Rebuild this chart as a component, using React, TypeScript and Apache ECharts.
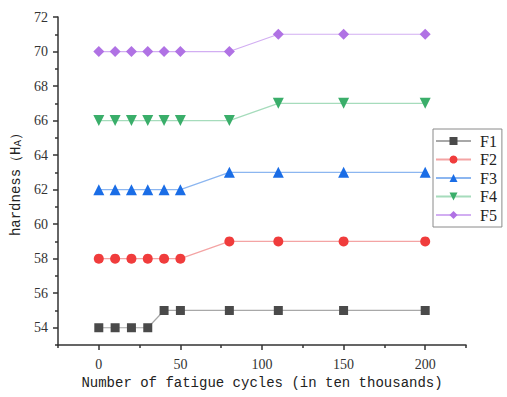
import React, { useEffect, useRef } from "react";
import * as echarts from "echarts";

const cycles = [0, 10, 20, 30, 40, 50, 80, 110, 150, 200];
const seriesNames = ["F1", "F2", "F3", "F4", "F5"];
const f1 = [54, 54, 54, 54, 55, 55, 55, 55, 55, 55];
const f2 = [58, 58, 58, 58, 58, 58, 59, 59, 59, 59];
const f3 = [62, 62, 62, 62, 62, 62, 63, 63, 63, 63];
const f4 = [66, 66, 66, 66, 66, 66, 66, 67, 67, 67];
const f5 = [70, 70, 70, 70, 70, 70, 70, 71, 71, 71];
const xLabels = [0, 50, 100, 150, 200];
const xMinor = [-25, 25, 75, 125, 175, 225];
const yLabels = [54, 56, 58, 60, 62, 64, 66, 68, 70, 72];
const yMinor = [53, 55, 57, 59, 61, 63, 65, 67, 69, 71];

const markerColors = ["#4a4a4a", "#f03c3c", "#1a6de6", "#3aae6a", "#b072e4"];
const lineColors = ["#a8a8a8", "#f4a4a4", "#8cb6f0", "#a6dcbc", "#d2aef2"];
const symbols = ["rect", "circle", "triangle", "triangle", "diamond"];
const symbolRotates = [0, 0, 0, 180, 0];
const symbolSizes = [9, 10, 11, 11, 11];

export default function App() {
  const ref = useRef<HTMLDivElement>(null);
  useEffect(() => {
    if (!ref.current) return;
    const chart = echarts.init(ref.current, undefined, { renderer: "svg" });
    const values = [f1, f2, f3, f4, f5];
    const axisColor = "#333";
    const serif = "Liberation Serif";
    const mono = "Liberation Mono";
    chart.setOption({
      animation: false,
      backgroundColor: "#fff",
      grid: { left: 58, right: 41, top: 17, bottom: 52, containLabel: false },
      xAxis: [
        {
          type: "value",
          min: -25,
          max: 225,
          interval: 25,
          name: "Number of fatigue cycles (in ten thousands)",
          nameLocation: "middle",
          nameGap: 30,
          nameTextStyle: { fontFamily: mono, fontSize: 14, color: "#222" },
          axisLine: { show: true, onZero: false, lineStyle: { color: axisColor, width: 1.5 } },
          axisTick: { show: true, length: 5, customValues: xLabels, lineStyle: { color: axisColor, width: 1.5 } },
          axisLabel: {
            margin: 12,
            fontFamily: serif,
            fontSize: 14,
            color: "#333",
            formatter: (v: number) => (xLabels.indexOf(v) >= 0 ? String(v) : ""),
          },
          splitLine: { show: false },
        },
        {
          type: "value",
          min: -25,
          max: 225,
          interval: 25,
          position: "bottom",
          axisLine: { show: false, onZero: false },
          axisTick: { show: true, length: 3, customValues: xMinor, lineStyle: { color: axisColor, width: 1.5 } },
          axisLabel: { show: false },
          splitLine: { show: false },
        },
      ],
      yAxis: [
        {
          type: "value",
          min: 53,
          max: 72,
          interval: 1,
          name: "{a|hardness（H}{s|A}{a|）}",
          nameLocation: "middle",
          nameGap: 31,
          nameTextStyle: {
            rich: {
              a: { fontFamily: mono, fontSize: 14, color: "#222" },
              s: { fontFamily: mono, fontSize: 11, color: "#222", verticalAlign: "bottom" },
            },
          },
          axisLine: { show: true, onZero: false, lineStyle: { color: axisColor, width: 1.5 } },
          axisTick: { show: true, length: 5, customValues: yLabels, lineStyle: { color: axisColor, width: 1.5 } },
          axisLabel: {
            margin: 10,
            fontFamily: serif,
            fontSize: 14,
            color: "#333",
            formatter: (v: number) => (yLabels.indexOf(v) >= 0 ? String(v) : ""),
          },
          splitLine: { show: false },
        },
        {
          type: "value",
          min: 53,
          max: 72,
          interval: 1,
          position: "left",
          axisLine: { show: false, onZero: false },
          axisTick: { show: true, length: 3, customValues: yMinor, lineStyle: { color: axisColor, width: 1.5 } },
          axisLabel: { show: false },
          splitLine: { show: false },
        },
      ],
      legend: {
        orient: "vertical",
        left: 433,
        top: 129,
        borderColor: "#8a8a8a",
        borderWidth: 1,
        padding: [4, 5, 4, 2],
        itemGap: 2.5,
        itemWidth: 35,
        itemHeight: 10,
        textStyle: { fontFamily: serif, fontSize: 16, color: "#222", padding: [0, 0, 0, 4] },
        data: seriesNames,
      },
      series: seriesNames.map((name, i) => ({
        name,
        type: "line",
        xAxisIndex: 0,
        yAxisIndex: 0,
        data: cycles.map((c, j) => [c, values[i][j]]),
        symbol: symbols[i],
        symbolSize: symbolSizes[i],
        symbolRotate: symbolRotates[i],
        showAllSymbol: true,
        itemStyle: { color: markerColors[i] },
        lineStyle: { color: lineColors[i], width: 1.2 },
      })),
    });
    return () => chart.dispose();
  }, []);
  return (
    <div
      ref={ref}
      style={{ position: "fixed", left: 0, top: 0, width: 507, height: 397 }}
    />
  );
}
